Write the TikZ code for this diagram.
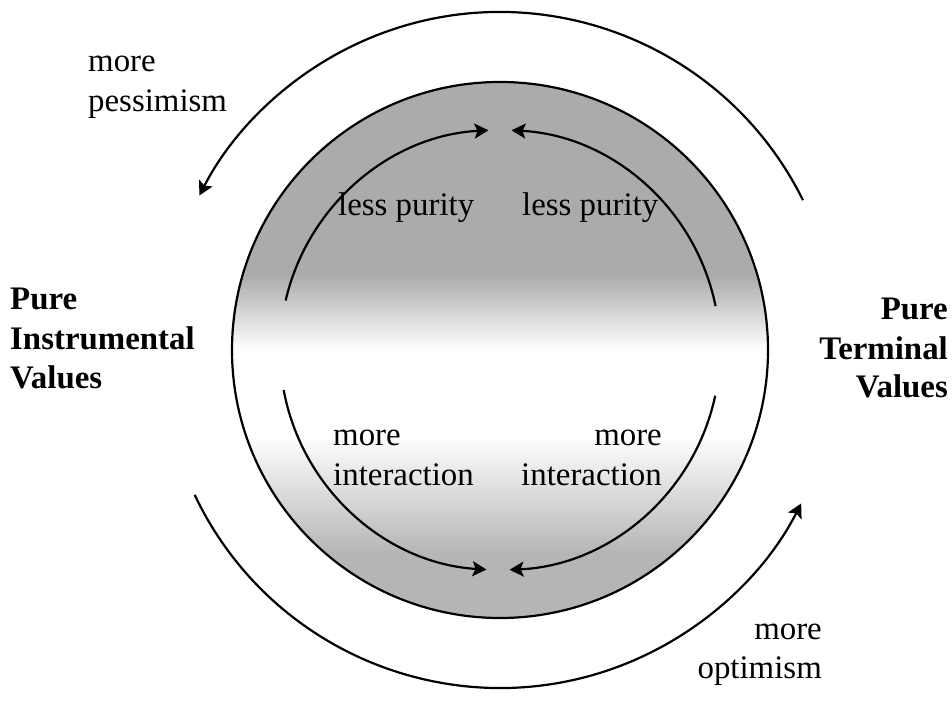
\documentclass[tikz,border=0pt]{standalone}
\usepackage{fontspec}
\setmainfont{Liberation Serif}
\usetikzlibrary{arrows.meta}
\definecolor{shadetop}{gray}{0.67}
\definecolor{shadebot}{gray}{0.71}
% grey at the top and bottom of the disc, white band just below the middle
\pgfdeclareverticalshading{ringfade}{100bp}{color(0bp)=(shadebot); color(25bp)=(shadebot); color(31bp)=(shadebot); color(42bp)=(white); color(50bp)=(white); color(57bp)=(shadetop); color(75bp)=(shadetop); color(100bp)=(shadetop)}

\begin{document}
\begin{tikzpicture}[x=1bp,y=1bp,
  lbl/.style={font=\fontsize{33}{40}\selectfont, inner sep=0pt},
  blbl/.style={font=\fontsize{33}{40}\selectfont\bfseries, inner sep=0pt},
  arcline/.style={line width=2.2bp},
  flow/.style={-{Stealth[length=14bp,width=15bp,inset=3bp]}}]
\useasboundingbox (0,0) rectangle (952,703);

\coordinate (c) at (500,353);

% shaded disc
\path[shading=ringfade] (c) circle[radius=268];
\draw[arcline] (c) circle[radius=268];

% inner arrows: upper pair meet at the top, lower pair at the bottom
\draw[arcline, flow] ([shift={(167:220)}]c) arc[start angle=167, end angle=93, radius=220];
\draw[arcline, flow] ([shift={(11.5:220)}]c) arc[start angle=11.5, end angle=87, radius=220];
\draw[arcline, flow] ([shift={(190.5:220)}]c) arc[start angle=190.5, end angle=266.5, radius=220];
\draw[arcline, flow] ([shift={(-12:220)}]c) arc[start angle=-12, end angle=-87.5, radius=220];

% outer arrows
\draw[arcline, flow] ([shift={(26.3:338)}]c) arc[start angle=26.3, end angle=152.8, radius=338];
\draw[arcline, flow] ([shift={(205.4:338)}]c) arc[start angle=205.4, end angle=333, radius=338];

% labels
\node[lbl, anchor=base west] (pes1) at (88,631) {more};
\node[lbl, anchor=base west] (pes2) at (88,591) {pessimism};

\node[lbl, anchor=base west] (lp1) at (338,487) {less purity};
\node[lbl, anchor=base west] (lp2) at (522,487) {less purity};

\node[blbl, anchor=base west] (piv1) at (10,393) {Pure};
\node[blbl, anchor=base west] (piv2) at (10,353) {Instrumental};
\node[blbl, anchor=base west] (piv3) at (10,314) {Values};

\node[blbl, anchor=base east] (ptv1) at (948,383) {Pure};
\node[blbl, anchor=base east] (ptv2) at (948,343) {Terminal};
\node[blbl, anchor=base east] (ptv3) at (948,305) {Values};

\node[lbl, anchor=base west] (mi1) at (333,257) {more};
\node[lbl, anchor=base west] (mi2) at (333,217) {interaction};
\node[lbl, anchor=base east] (mi3) at (662,257) {more};
\node[lbl, anchor=base east] (mi4) at (662,217) {interaction};

\node[lbl, anchor=base east] (opt1) at (822,63) {more};
\node[lbl, anchor=base east] (opt2) at (822,24) {optimism};
\end{tikzpicture}
\end{document}
